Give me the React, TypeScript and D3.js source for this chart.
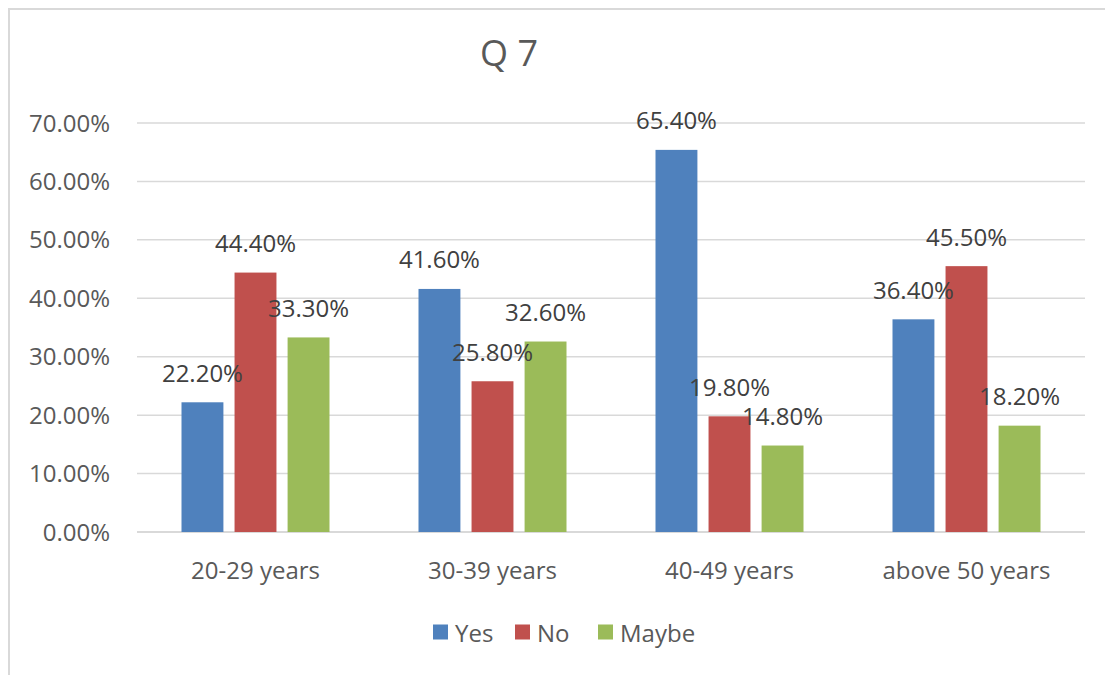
import React from "react";
import * as d3 from "d3";

const categories = ["20-29 years", "30-39 years", "40-49 years", "above 50 years"];
const seriesNames = ["Yes", "No", "Maybe"];
const yesValues = [22.2, 41.6, 65.4, 36.4];
const noValues = [44.4, 25.8, 19.8, 45.5];
const maybeValues = [33.3, 32.6, 14.8, 18.2];
const yTicks = [0, 10, 20, 30, 40, 50, 60, 70];
const colors = ["#4F81BD", "#C0504D", "#9BBB59"];

const W = 1105;
const H = 675;
const FONT = "'Open Sans', 'Segoe UI', sans-serif";
const plot = { left: 137, right: 1085, top: 123, bottom: 532 };
const legendX = [433, 515, 598];

export default function App() {
  const seriesValues = [yesValues, noValues, maybeValues];

  const x0 = d3.scaleBand<string>().domain(categories).range([plot.left, plot.right]).padding(0);
  const groupPad = 44.5;
  const x1 = d3
    .scaleBand<string>()
    .domain(seriesNames)
    .range([groupPad, x0.bandwidth() - groupPad])
    .paddingInner(0.21)
    .paddingOuter(0);
  const y = d3.scaleLinear().domain([0, 70]).range([plot.bottom, plot.top]);
  const fmt = (v: number) => v.toFixed(2) + "%";

  return (
    <svg
      width={W}
      height={H}
      style={{ position: "absolute", left: 0, top: 0, background: "#fff" }}
      fontFamily={FONT}
    >
      <rect x={0} y={0} width={W} height={H} fill="#fff" />
      {/* chart frame */}
      <path d={`M9,${H + 2} V9 H${W + 2}`} fill="none" stroke="#D9D9D9" strokeWidth={2} />

      <text x={509} y={52} fontSize={36} fill="#595959" textAnchor="middle" dominantBaseline="central">
        Q 7
      </text>

      {/* gridlines and y tick labels */}
      {yTicks.map((t) => (
        <g key={t}>
          <line
            x1={plot.left}
            x2={plot.right}
            y1={y(t)}
            y2={y(t)}
            stroke="#D9D9D9"
            strokeWidth={t === 0 ? 2 : 1.5}
          />
          <text
            x={110}
            y={y(t) - 1}
            fontSize={24}
            fill="#595959"
            textAnchor="end"
            dominantBaseline="central"
          >
            {t.toFixed(2) + "%"}
          </text>
        </g>
      ))}

      {/* bars */}
      {categories.map((c, ci) => (
        <g key={c} transform={`translate(${x0(c)},0)`}>
          {seriesNames.map((s, si) => {
            const v = seriesValues[si][ci];
            return (
              <rect
                key={s}
                x={x1(s)}
                y={y(v)}
                width={x1.bandwidth()}
                height={y(0) - y(v)}
                fill={colors[si]}
              />
            );
          })}
        </g>
      ))}

      {/* data labels */}
      {categories.map((c, ci) => (
        <g key={c} transform={`translate(${x0(c)},0)`}>
          {seriesNames.map((s, si) => {
            const v = seriesValues[si][ci];
            return (
              <text
                key={s}
                x={(x1(s) as number) + x1.bandwidth() / 2}
                y={y(v) - 30}
                fontSize={24}
                fill="#404040"
                textAnchor="middle"
                dominantBaseline="central"
              >
                {fmt(v)}
              </text>
            );
          })}
        </g>
      ))}

      {/* category labels */}
      {categories.map((c) => (
        <text
          key={c}
          x={(x0(c) as number) + x0.bandwidth() / 2}
          y={569}
          fontSize={24}
          fill="#595959"
          textAnchor="middle"
          dominantBaseline="central"
        >
          {c}
        </text>
      ))}

      {/* legend */}
      {seriesNames.map((s, si) => (
        <g key={s} transform={`translate(${legendX[si]},632)`}>
          <rect x={0} y={-7.5} width={15} height={15} fill={colors[si]} />
          <text x={22} y={0} fontSize={24} fill="#595959" dominantBaseline="central">
            {s}
          </text>
        </g>
      ))}
    </svg>
  );
}
